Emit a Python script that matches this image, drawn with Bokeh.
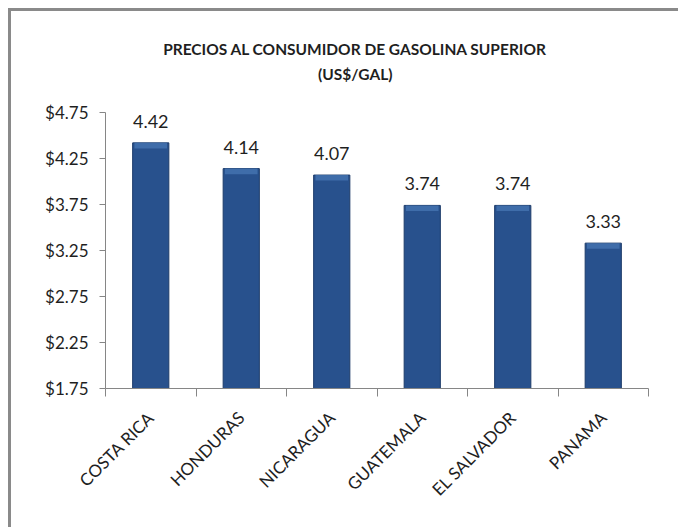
import math
from bokeh.plotting import figure
from bokeh.models import (ColumnDataSource, Label, LinearAxis, FixedTicker,
                          NumeralTickFormatter, Range1d)
from bokeh.embed import file_html
from bokeh.resources import INLINE

countries = ["COSTA RICA", "HONDURAS", "NICARAGUA", "GUATEMALA", "EL SALVADOR", "PANAMA"]
prices = [4.42, 4.14, 4.07, 3.74, 3.74, 3.33]
y_ticks = [1.75, 2.25, 2.75, 3.25, 3.75, 4.25, 4.75]
title_line1 = "PRECIOS AL CONSUMIDOR DE GASOLINA SUPERIOR"
title_line2 = "(US$/GAL)"

FONT = "Lato"
TXT = "#1f1f1f"
AXC = "#868686"

W, H = 670, 519
BORDER_TOP = 5
BORDER_BOTTOM = 142
AXIS_PX = 276  # pixel height of the value axis (1.75 .. 4.75)
y_lo, y_hi = y_ticks[0], y_ticks[-1]
px_per_unit = AXIS_PX / (y_hi - y_lo)
frame_h = H - BORDER_TOP - BORDER_BOTTOM
y_top = y_lo + frame_h / px_per_unit

centers = [i + 0.5 for i in range(len(countries))]
src = ColumnDataSource(dict(x=centers, top=prices,
                            label=["%.2f" % v for v in prices],
                            bevel=[v - 0.06 for v in prices]))

p = figure(width=W, height=H, output_backend="svg", toolbar_location=None,
           x_range=Range1d(0, len(countries)), y_range=Range1d(y_lo, y_top),
           min_border_left=94, min_border_right=33, min_border_top=BORDER_TOP,
           min_border_bottom=BORDER_BOTTOM, x_axis_type=None, y_axis_type=None)
p.styles = {"border-left": "3px solid #8a8a8a", "border-top": "3px solid #8a8a8a",
            "margin-left": "8px", "margin-top": "8px"}
p.outline_line_color = None
p.xgrid.visible = False
p.ygrid.visible = False
p.background_fill_color = "white"
p.border_fill_color = "white"

# bars
p.vbar(x="x", top="top", bottom=y_lo, width=0.4, source=src,
       fill_color="#28518D", line_color="#1d3c6a", line_width=1)
p.vbar(x="x", top="top", bottom="bevel", width=0.36, source=src,
       fill_color="#4574B2", line_color=None, fill_alpha=0.8)

# data labels
p.text(x="x", y="top", text="label", source=src, text_align="center",
       text_baseline="bottom", y_offset=-15, text_font_size="18px",
       text_font={"value": FONT}, text_color=TXT)

# y axis
yax = LinearAxis(ticker=FixedTicker(ticks=y_ticks), bounds=(y_lo, y_hi),
                 formatter=NumeralTickFormatter(format="$0.00"))
yax.axis_line_color = AXC
yax.major_tick_line_color = AXC
yax.major_tick_out = 6
yax.major_tick_in = 0
yax.minor_tick_line_color = None
yax.major_label_text_font = FONT
yax.major_label_text_font_size = "17px"
yax.major_label_text_color = TXT
yax.major_label_standoff = 11
p.add_layout(yax, "left")

# x axis
xax = LinearAxis(ticker=FixedTicker(ticks=centers,
                                    minor_ticks=list(range(len(countries) + 1))))
xax.major_label_overrides = {c: n for c, n in zip(centers, countries)}
xax.axis_line_color = AXC
xax.major_tick_line_color = None
xax.major_tick_out = 0
xax.major_tick_in = 0
xax.minor_tick_line_color = AXC
xax.minor_tick_out = 8
xax.minor_tick_in = 0
xax.major_label_orientation = math.pi / 4
xax.major_label_text_font = FONT
xax.major_label_text_font_size = "17px"
xax.major_label_text_color = TXT
xax.major_label_standoff = 18
p.add_layout(xax, "below")

# title: anchored on the top of the value axis, shifted upward in pixels
p.add_layout(Label(x=2.76, y=y_hi, y_offset=64, text=title_line1,
                   text_align="center", text_baseline="middle",
                   text_font=FONT, text_font_style="bold", text_font_size="15.5px",
                   text_color=TXT))
p.add_layout(Label(x=2.76, y=y_hi, y_offset=39, text=title_line2,
                   text_align="center", text_baseline="middle",
                   text_font=FONT, text_font_style="bold", text_font_size="15.5px",
                   text_color=TXT))

open("out.html", "w").write(file_html(p, INLINE))
